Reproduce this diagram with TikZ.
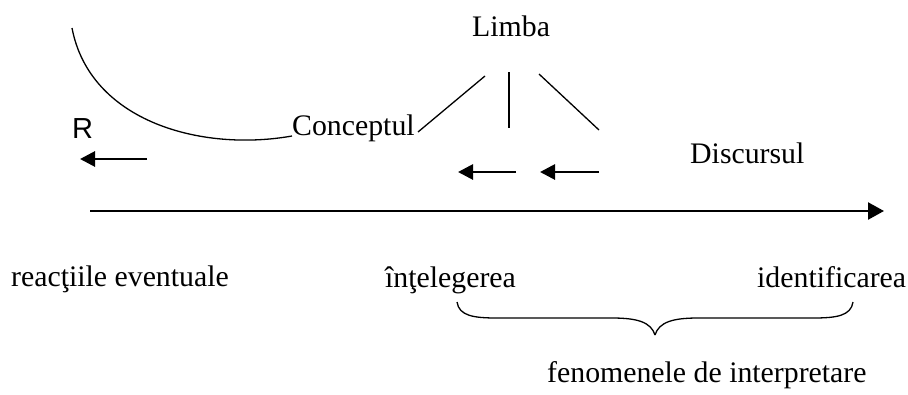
\documentclass[tikz,border=0pt]{standalone}
\usepackage{fontspec}
\setmainfont{Liberation Serif}
\newfontfamily\arialfont{Liberation Sans}
\usetikzlibrary{arrows.meta}
\begin{document}
\begin{tikzpicture}[x=1pt,y=-1pt,
  lbl/.style={inner sep=0pt,anchor=base west,font=\fontsize{29.8}{35}\selectfont},
  thin/.style={line width=1.3pt},
  smallarr/.style={line width=2.8pt,-{Triangle[length=15pt,width=15pt]}},
  mainarr/.style={line width=2.4pt,-{Triangle[length=16pt,width=17pt]}}]
\useasboundingbox (0,0) rectangle (908,394);
% texts
\node[lbl] (limba) at (472,36) {Limba};
\node[lbl] (concept) at (292,135) {Conceptul};
\node[lbl,font=\arialfont\fontsize{29}{34}\selectfont] (r) at (72,138) {R};
\node[lbl] (disc) at (690,163) {Discursul};
\node[lbl] (reac) at (11,286) {reacţiile eventuale};
\node[lbl] (intel) at (385,287) {înţelegerea};
\node[lbl] (ident) at (757,287) {identificarea};
\node[lbl] (fenom) at (547,382) {fenomenele de interpretare};
% curve
\coordinate (c0) at (72,28);
\coordinate (c1) at (292,136);
\draw[thin] (c0) .. controls (90,122) and (202,152) .. (c1);
% lines under Limba
\coordinate (l1a) at (485,76); \coordinate (l1b) at (418,132);
\coordinate (l2a) at (509,72); \coordinate (l2b) at (509,128);
\coordinate (l3a) at (539,74); \coordinate (l3b) at (599,130);
\draw[thin] (l1a) -- (l1b);
\draw[thin] (l2a) -- (l2b);
\draw[thin] (l3a) -- (l3b);
% small arrows
\coordinate (a1s) at (147,159); \coordinate (a1e) at (80,159);
\coordinate (a2s) at (516,172); \coordinate (a2e) at (458,172);
\coordinate (a3s) at (599,172); \coordinate (a3e) at (540,172);
\draw[smallarr] (a1s) -- (a1e);
\draw[smallarr] (a2s) -- (a2e);
\draw[smallarr] (a3s) -- (a3e);
% main arrow
\coordinate (m0) at (90,211); \coordinate (m1) at (884,211);
\draw[mainarr] (m0) -- (m1);
% brace
\coordinate (bl) at (457,302); \coordinate (br) at (853,302); \coordinate (bt) at (655,335);
\draw[thin] (bl) .. controls (459,316) and (474,318) .. (497,318) -- (612,318)
  .. controls (637,318) and (651,322) .. (bt);
\draw[thin] (br) .. controls (851,316) and (836,318) .. (813,318) -- (698,318)
  .. controls (673,318) and (659,322) .. (bt);
\end{tikzpicture}
\end{document}
